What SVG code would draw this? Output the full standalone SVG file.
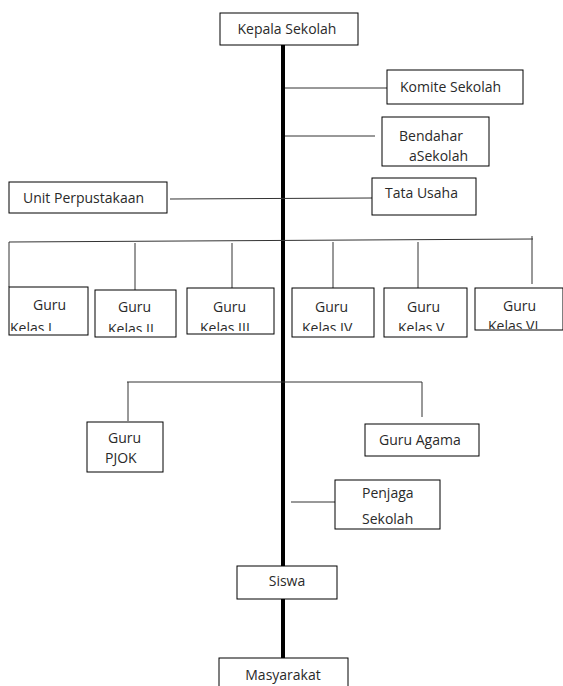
<svg xmlns="http://www.w3.org/2000/svg" width="563" height="686" viewBox="0 0 563 686">
<style>
rect.b{fill:#fff;stroke:#000;stroke-width:1}
text{font-family:"Open Sans","Liberation Sans",sans-serif;font-size:14px;fill:#2a2a2a}
.c{text-anchor:middle}
.thin{stroke:#333;stroke-width:1;fill:none}
.thick{stroke:#000;stroke-width:4;fill:none}
</style>
<defs>
<clipPath id="k1"><rect x="9" y="287" width="79" height="44"/></clipPath>
<clipPath id="k2"><rect x="95" y="290" width="81" height="42"/></clipPath>
<clipPath id="k3"><rect x="187" y="288" width="87" height="43"/></clipPath>
<clipPath id="k4"><rect x="292" y="288" width="82" height="43"/></clipPath>
<clipPath id="k5"><rect x="384" y="288" width="83" height="43"/></clipPath>
<clipPath id="k6"><rect x="475" y="288" width="88" height="41"/></clipPath>
</defs>
<rect width="563" height="686" fill="#fff"/>
<g id="connectors">
<line class="thick" x1="283" y1="45" x2="283" y2="566"/>
<line class="thick" x1="283" y1="599" x2="283" y2="658"/>
<line class="thin" x1="285" y1="88" x2="387" y2="88"/>
<line class="thin" x1="285" y1="136" x2="375" y2="136"/>
<line class="thin" x1="170" y1="199" x2="372" y2="198"/>
<line class="thin" x1="9" y1="242" x2="533" y2="239"/>
<line class="thin" x1="9" y1="242" x2="9" y2="287"/>
<line class="thin" x1="135" y1="243" x2="135" y2="290"/>
<line class="thin" x1="232" y1="243" x2="232" y2="288"/>
<line class="thin" x1="333" y1="242" x2="333" y2="288"/>
<line class="thin" x1="418" y1="242" x2="418" y2="288" stroke-width="2"/>
<line class="thin" x1="532" y1="236" x2="532" y2="284"/>
<line class="thin" x1="127" y1="382" x2="422" y2="382"/>
<line class="thin" x1="128" y1="382" x2="128" y2="421"/>
<line class="thin" x1="422" y1="382" x2="422" y2="417"/>
<line class="thin" x1="291" y1="502" x2="335" y2="502"/>
</g>
<g id="kepala"><rect class="b" x="220" y="13" width="138" height="32"/><text class="c" x="287" y="34">Kepala Sekolah</text></g>
<g id="komite"><rect class="b" x="387" y="70" width="136" height="34"/><text x="400" y="92">Komite Sekolah</text></g>
<g id="bendahara"><rect class="b" x="382" y="117" width="107" height="49"/><text x="399" y="141">Bendahar</text><text x="409" y="161">aSekolah</text></g>
<g id="tatausaha"><rect class="b" x="372" y="178" width="104" height="37"/><text x="385" y="198">Tata Usaha</text></g>
<g id="perpustakaan"><rect class="b" x="9" y="182" width="158" height="31"/><text x="23" y="203">Unit Perpustakaan</text></g>
<g id="kelas1"><rect class="b" x="9" y="287" width="79" height="48"/><text x="33" y="310">Guru</text><text x="10" y="333" clip-path="url(#k1)">Kelas I</text></g>
<g id="kelas2"><rect class="b" x="95" y="290" width="81" height="47"/><text x="118" y="312">Guru</text><text x="108" y="334" clip-path="url(#k2)">Kelas II</text></g>
<g id="kelas3"><rect class="b" x="187" y="288" width="87" height="46"/><text x="213" y="312">Guru</text><text x="200" y="333" clip-path="url(#k3)">Kelas III</text></g>
<g id="kelas4"><rect class="b" x="292" y="288" width="82" height="49"/><text x="315" y="312">Guru</text><text x="302" y="333" clip-path="url(#k4)">Kelas IV</text></g>
<g id="kelas5"><rect class="b" x="384" y="288" width="83" height="49"/><text x="407" y="312">Guru</text><text x="398" y="333" clip-path="url(#k5)">Kelas V</text></g>
<g id="kelas6"><rect class="b" x="475" y="288" width="88" height="42"/><text x="503" y="311">Guru</text><text x="488" y="331" clip-path="url(#k6)">Kelas VI</text></g>
<g id="pjok"><rect class="b" x="87" y="422" width="76" height="50"/><text x="108" y="443">Guru</text><text x="105" y="463">PJOK</text></g>
<g id="agama"><rect class="b" x="365" y="424" width="114" height="32"/><text x="379" y="445">Guru Agama</text></g>
<g id="penjaga"><rect class="b" x="335" y="480" width="105" height="49"/><text x="362" y="498">Penjaga</text><text x="362" y="524">Sekolah</text></g>
<g id="siswa"><rect class="b" x="237" y="566" width="100" height="33"/><text class="c" x="287" y="586">Siswa</text></g>
<g id="masyarakat"><rect class="b" x="219" y="658" width="129" height="40"/><text class="c" x="283" y="680">Masyarakat</text></g>
</svg>
